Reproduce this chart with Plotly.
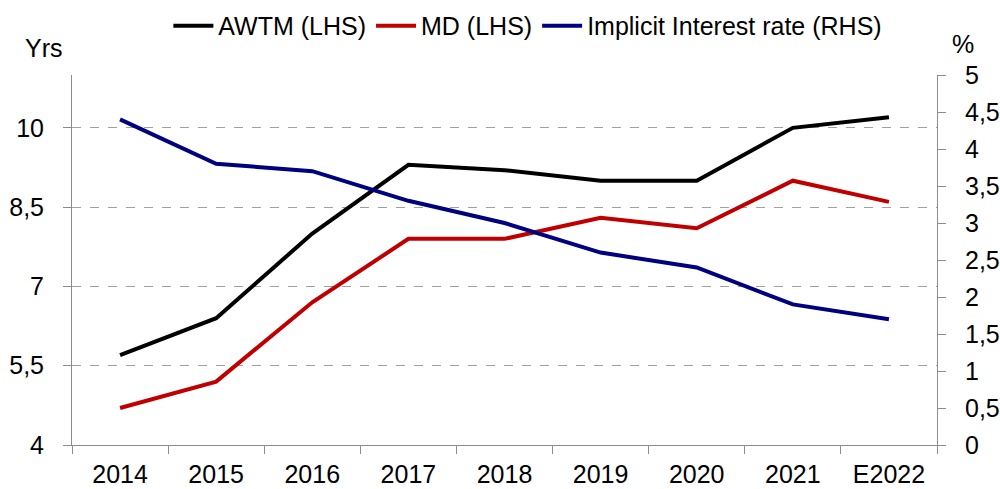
import plotly.graph_objects as go

years = ["2014", "2015", "2016", "2017", "2018", "2019", "2020", "2021", "E2022"]
awtm = [5.7, 6.4, 8.0, 9.3, 9.2, 9.0, 9.0, 10.0, 10.2]
md = [4.7, 5.2, 6.7, 7.9, 7.9, 8.3, 8.1, 9.0, 8.6]
implicit_rate = [4.4, 3.8, 3.7, 3.3, 3.0, 2.6, 2.4, 1.9, 1.7]

font_family = "Liberation Sans, Arial, sans-serif"
axis_col = "#8c8c8c"
fs = 25

fig = go.Figure()
fig.add_trace(go.Scatter(x=years, y=awtm, name="AWTM (LHS)", mode="lines",
                         line=dict(color="#000000", width=4)))
fig.add_trace(go.Scatter(x=years, y=md, name="MD (LHS)", mode="lines",
                         line=dict(color="#C00000", width=4)))
fig.add_trace(go.Scatter(x=years, y=implicit_rate, name="Implicit Interest rate (RHS)", mode="lines",
                         line=dict(color="#000080", width=4), yaxis="y2"))

fig.update_layout(
    width=1000, height=489,
    margin=dict(l=72, r=63, t=75, b=44, autoexpand=False),
    paper_bgcolor="white", plot_bgcolor="white",
    separators=", ",
    font=dict(family=font_family, size=fs, color="#000000"),
    showlegend=True,
    legend=dict(orientation="h", x=0.527, xanchor="center", y=0.947, yanchor="middle",
                yref="container", font=dict(size=fs), itemwidth=40,
                tracegroupgap=0, bgcolor="rgba(0,0,0,0)", traceorder="normal"),
    xaxis=dict(type="category", range=[-0.5, 8.5], showline=True, linecolor=axis_col,
               linewidth=1, ticks="outside", tickson="boundaries", ticklen=8,
               tickcolor=axis_col, showgrid=False, tickfont=dict(size=fs),
               ticklabelstandoff=7, automargin=False),
    yaxis=dict(range=[4, 11], tick0=4, dtick=1.5, showline=True, linecolor=axis_col,
               linewidth=1, ticks="outside", ticklen=8, tickcolor=axis_col,
               showgrid=True, gridcolor="#a0a0a0", griddash="dash", gridwidth=1,
               zeroline=False, tickfont=dict(size=fs), ticklabelstandoff=14,
               automargin=False),
    yaxis2=dict(range=[0, 5], dtick=0.5, overlaying="y", side="right", showline=True,
                linecolor=axis_col, linewidth=1, ticks="outside", ticklen=8,
                tickcolor=axis_col, showgrid=False, zeroline=False, tickfont=dict(size=fs),
                ticklabelstandoff=14, automargin=False),
    annotations=[
        dict(text="Yrs", xref="paper", yref="paper", x=-0.008, y=1.03, xanchor="right",
             yanchor="bottom", showarrow=False, font=dict(size=fs)),
        dict(text="%", xref="paper", yref="paper", x=1.015, y=1.04, xanchor="left",
             yanchor="bottom", showarrow=False, font=dict(size=fs)),
    ],
)

fig.write_html("out.html", config={"displayModeBar": False},
               post_script="document.body.style.margin='0';document.body.style.padding='0';")
